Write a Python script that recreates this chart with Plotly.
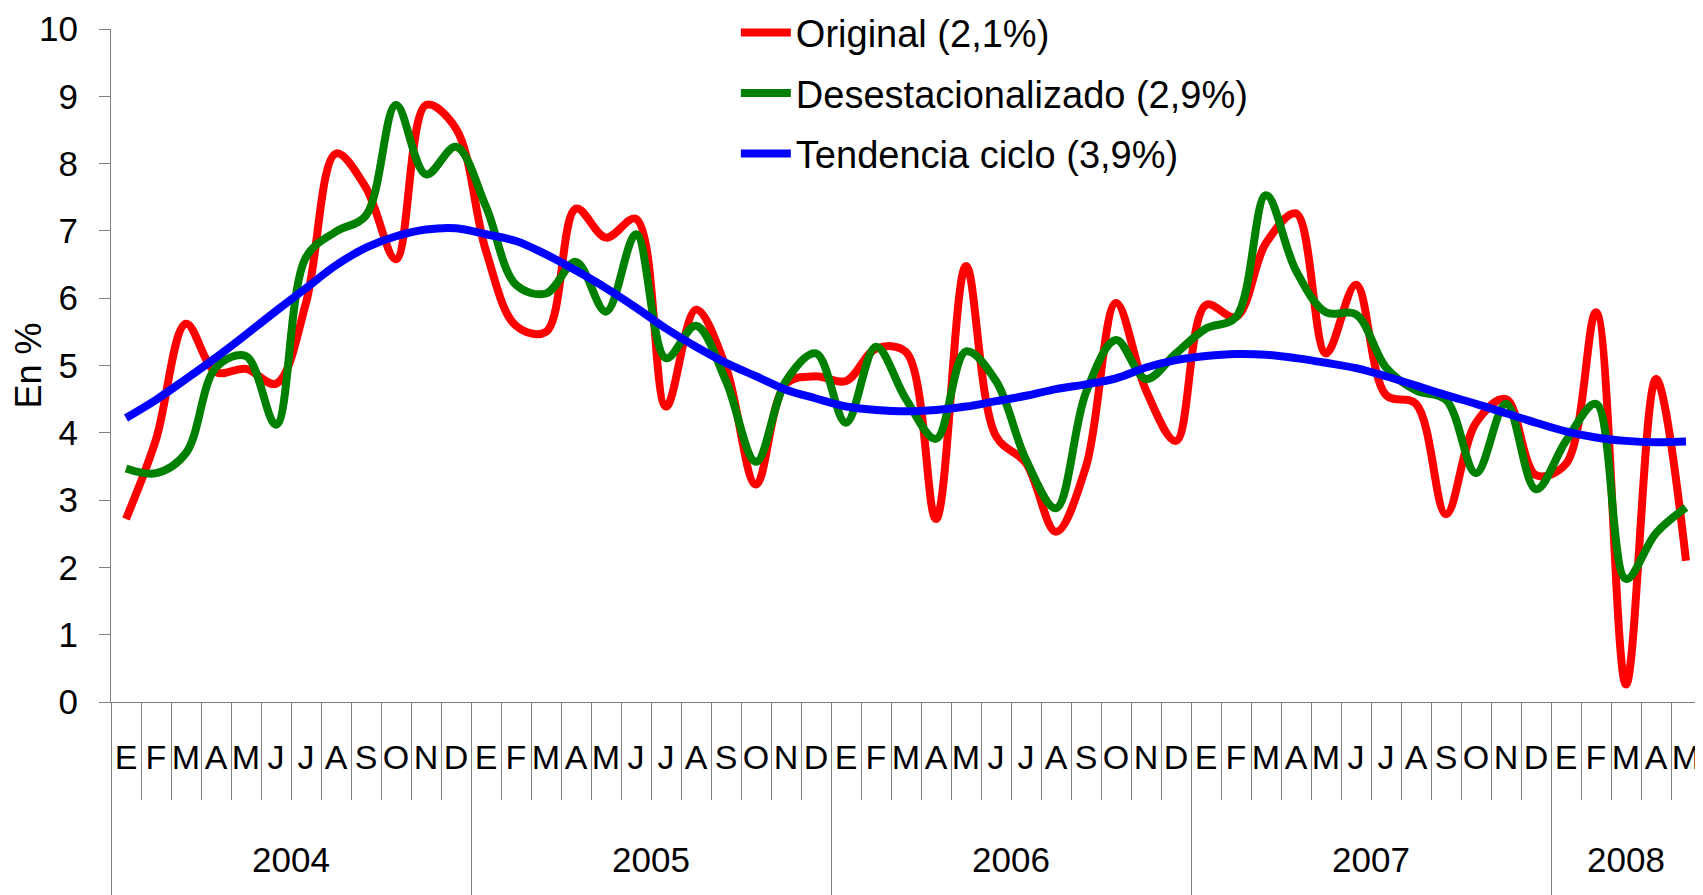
import plotly.graph_objects as go

months = ["E", "F", "M", "A", "M", "J", "J", "A", "S", "O", "N", "D"] * 4 + ["E", "F", "M", "A", "M"]
years = ["2004", "2005", "2006", "2007", "2008"]
year_lengths = [12, 12, 12, 12, 5]

original = [2.72, 3.9, 5.62, 4.9, 4.95, 4.73, 5.93, 8.15, 7.64, 6.58, 8.87, 8.52,
            6.7, 5.59, 5.5, 7.33, 6.9, 7.18, 4.39, 5.83, 4.97, 3.23, 4.73, 4.84,
            4.77, 5.25, 5.2, 2.72, 6.48, 3.95, 3.55, 2.53, 3.5, 5.93, 4.63, 3.88,
            5.9, 5.72, 6.82, 7.26, 5.18, 6.2, 4.56, 4.43, 2.79, 4.15, 4.5, 3.37,
            3.54, 5.79, 0.26, 4.8, 2.1]
desest = [3.47, 3.4, 3.7, 4.97, 5.14, 4.12, 6.61, 6.99, 7.23, 8.87, 7.84, 8.25,
          7.36, 6.2, 6.07, 6.54, 5.8, 6.95, 5.11, 5.59, 4.77, 3.57, 4.77, 5.18,
          4.15, 5.28, 4.5, 3.91, 5.21, 4.77, 3.6, 2.88, 4.6, 5.38, 4.8, 5.18,
          5.55, 5.72, 7.53, 6.41, 5.79, 5.76, 4.97, 4.63, 4.49, 3.4, 4.43, 3.16,
          3.88, 4.43, 1.83, 2.51, 2.89]
tendencia = [4.22, 4.49, 4.8, 5.12, 5.46, 5.81, 6.15, 6.49, 6.75, 6.92, 7.02, 7.04,
             6.95, 6.85, 6.65, 6.41, 6.15, 5.86, 5.55, 5.28, 5.04, 4.84, 4.64, 4.51,
             4.39, 4.34, 4.32, 4.34, 4.39, 4.47, 4.55, 4.65, 4.72, 4.81, 4.97, 5.08,
             5.14, 5.17, 5.16, 5.11, 5.04, 4.96, 4.84, 4.7, 4.56, 4.43, 4.29, 4.15,
             4.02, 3.93, 3.88, 3.86, 3.87]

names = ["Original (2,1%)", "Desestacionalizado (2,9%)", "Tendencia ciclo (3,9%)"]
colors = ["#FF0000", "#008000", "#0000FF"]

FONT = "Arial, Liberation Sans, sans-serif"
GRAY = "#7F7F7F"

x = list(range(len(months)))

# year group geometry derived from the year lengths
bounds = [-0.5]
for n in year_lengths:
    bounds.append(bounds[-1] + n)
year_centers = [(bounds[k] + bounds[k + 1]) / 2 for k in range(len(years))]
month_bounds = [i + 0.5 for i in range(len(months) - 1)]

fig = go.Figure()
for series, name, color, g, xa in zip([original, desest, tendencia], names, colors,
                                      ["a", "b", "c"], ["x", "x", "x2"]):
    fig.add_trace(go.Scatter(
        x=x, y=series, name=name, mode="lines", legendgroup=g, xaxis=xa, yaxis="y",
        line=dict(color=color, width=8, shape="spline", smoothing=1.0),
    ))

# the page adds an 8 px body margin, so the figure is 8 px smaller on each axis
fig.update_layout(
    width=1695, height=887,
    margin=dict(l=103, r=2, t=21, b=193, autoexpand=False),
    paper_bgcolor="white", plot_bgcolor="white",
    font=dict(family=FONT, size=35, color="black"),
    showlegend=True,
    legend=dict(
        x=0.393, y=1.041, xanchor="left", yanchor="top",
        font=dict(family=FONT, size=38, color="black"),
        bgcolor="rgba(0,0,0,0)", tracegroupgap=8,
        itemwidth=50,
    ),
    yaxis=dict(
        range=[0, 10], dtick=1, tick0=0, automargin=False,
        showline=True, linecolor=GRAY, linewidth=1,
        ticks="outside", ticklen=11, tickcolor=GRAY, tickwidth=1,
        showgrid=False, zeroline=False,
        tickfont=dict(family=FONT, size=35),
        ticklabelstandoff=14,
        title=dict(text="En %", font=dict(family=FONT, size=36), standoff=0),
    ),
    xaxis=dict(
        range=[-0.5, len(months) - 0.5], automargin=False,
        tickmode="array", tickvals=x, ticktext=months,
        ticks="outside", ticklen=0, tickcolor=GRAY,
        showline=True, linecolor=GRAY, linewidth=1,
        showgrid=False, zeroline=False,
        tickfont=dict(family=FONT, size=34),
        ticklabelstandoff=25,
        minor=dict(tickmode="array", tickvals=month_bounds, ticks="outside",
                   ticklen=97, tickcolor=GRAY, tickwidth=1, showgrid=False),
    ),
    xaxis2=dict(
        overlaying="x", anchor="y", side="bottom", automargin=False,
        range=[-0.5, len(months) - 0.5],
        tickmode="array", tickvals=year_centers, ticktext=years,
        ticks="outside", ticklen=0, tickcolor=GRAY,
        showline=False, showgrid=False, zeroline=False,
        tickfont=dict(family=FONT, size=35),
        ticklabelstandoff=127,
        minor=dict(tickmode="array", tickvals=bounds, ticks="outside",
                   ticklen=193, tickcolor=GRAY, tickwidth=1, showgrid=False),
    ),
)

fig.write_html("out.html")
